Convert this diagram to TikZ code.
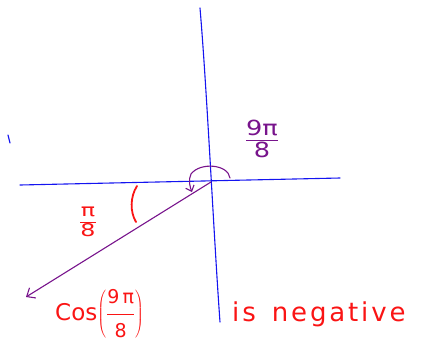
\documentclass[tikz,border=0pt]{standalone}
\usepackage{fontspec}
\setmainfont{DejaVu Sans}
\usetikzlibrary{arrows.meta}
\definecolor{penblue}{RGB}{20,20,240}
\definecolor{penpurple}{RGB}{120,20,140}
\definecolor{penred}{RGB}{250,20,20}
\tikzset{
  axisline/.style={penblue, line width=1.1pt, line cap=round},
  rayline/.style={penpurple, line width=1.1pt, line cap=round},
  redmark/.style={penred, line width=1.8pt, line cap=round},
  purplelabel/.style={text=penpurple, inner sep=0pt},
  redlabel/.style={text=penred, inner sep=0pt},
}
\newcommand{\hfrac}[3]{$\displaystyle\frac{\mbox{\fontsize{#3}{#3}\selectfont #1}}{\mbox{\fontsize{#3}{#3}\selectfont #2}}$}
\begin{document}
\begin{tikzpicture}[x=1pt,y=-1pt]
\useasboundingbox (0,0) rectangle (424,341);
% coordinates
\coordinate (xl) at (20,185);
\coordinate (xr) at (340,178);
\coordinate (yt) at (200,8);
\coordinate (yb) at (220,322);
\coordinate (o) at (211,182);
\coordinate (rayend) at (26,297);
% axes
\draw[axisline] (xl) -- (xr);
\draw[axisline] (yt) .. controls (207,90) and (214,240) .. (yb);
\draw[axisline] (8,135) -- (10,143);
% ray
\draw[rayline, -{Straight Barb[length=7pt,width=12pt]}] (o) -- (rayend);
% angle arc 9pi/8
\draw[rayline, -{Straight Barb[length=5pt,width=9pt]}] (230,178) .. controls (228,164) and (200,162) .. (191,174) .. controls (188,180) and (190,187) .. (192,192);
% red angle mark
\draw[redmark] (137,186) .. controls (130,197) and (130,212) .. (136,222);
% labels
\node[purplelabel, xscale=1.6, yscale=1.3] (lab98) at (262,139) {\hfrac{9π}{8}{16}};
\node[redlabel, xscale=1.7, yscale=1.25] (lab18) at (88,222) {\hfrac{π}{8}{14}};
\node[redlabel, anchor=west, font=\fontsize{23}{26}\selectfont] (cos) at (55,314) {Cos$\left(\mbox{\hfrac{9\,π}{8}{19}}\right)$};
\node[redlabel, anchor=west, font=\fontsize{26}{30}\selectfont\addfontfeature{LetterSpace=11}] (neg) at (232,314) {is\hspace{16pt}negative};
\end{tikzpicture}
\end{document}
